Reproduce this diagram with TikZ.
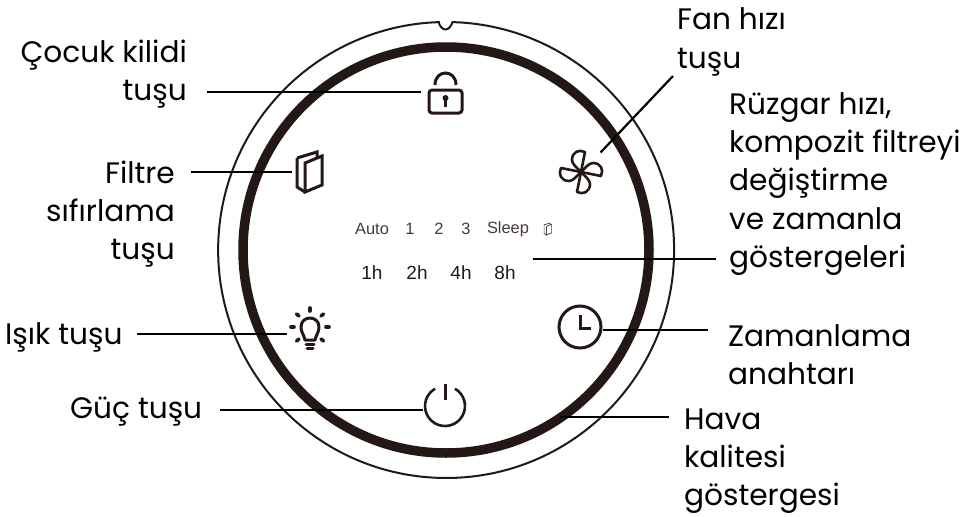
\documentclass[tikz,border=0pt]{standalone}
\usepackage{fontspec}
\setmainfont{Poppins}
\newfontfamily\panelfont{Liberation Sans}
\usetikzlibrary{positioning}

\definecolor{inkdark}{HTML}{231815}

\begin{document}
\begin{tikzpicture}[
    x=1pt, y=-1pt,
    lblr/.style={inner sep=0pt, align=right, anchor=east, font=\fontsize{29.6}{38.3}\selectfont},
    lbll/.style={inner sep=0pt, align=left, anchor=west, font=\fontsize{29.6}{38.3}\selectfont},
    panel/.style={inner sep=0pt, text=inkdark!85, font=\panelfont\fontsize{16.4}{18}\selectfont},
    hour/.style={inner sep=0pt, text=inkdark, font=\panelfont\fontsize{19}{20}\selectfont},
    icon/.style={inner sep=0pt, minimum height=1pt},
    lead/.style={line width=2.2pt, black},
    ink/.style={draw=inkdark, line width=3pt},
    inkr/.style={draw=inkdark, line width=3pt, line cap=round},
    booklet/.pic={
        \draw (-13,-14) -- (7,-20) -- (7,-14);
        \draw (-13,-14) -- (-13,15) -- (-5,20);
        \draw (-5,-9) -- (12,-16) -- (12,13) -- (-5,20) -- cycle;
    },
]
\useasboundingbox (0,0) rectangle (978,517);

% housing
\draw[draw=inkdark, line width=9.5pt] (446,250) circle[radius=203pt];
\draw[draw=inkdark, line width=2pt] (438.5,22.1)
    .. controls (440,27) and (443,29.5) .. (445.5,29.5) .. controls (448,29.5) and (451,27) .. (452.5,22.1)
    arc[start angle=88.4, end angle=-268.4, radius=228pt];

% icons
\node[icon, minimum width=48pt] (lock) at (445,92) {};
\node[icon, minimum width=36pt] (filter) at (310,172) {};
\node[icon, circle, minimum size=55pt, inner sep=0pt] (fan) at (581,172) {};
\node[icon, minimum width=46pt] (light) at (310,334) {};
\node[icon, minimum width=46pt] (clock) at (580,330) {};
\node[icon, minimum width=44pt] (power) at (445,410) {};

% lock
\draw[ink, rounded corners=3pt] (429,90) rectangle (462,113);
\draw[ink] (435,85) .. controls (435,69) and (456,69) .. (456,85);
\fill[inkdark] (445.5,98) circle[radius=3pt];
\draw[inkdark, line width=2.6pt] (445.5,98) -- (445.5,107);

% filter
\pic[ink, line join=miter] at (310,172) {booklet};

% fan
\foreach \a in {0,90,180,270} {
    \draw[inkr, line width=2.6pt, line join=round, shift={(581,172)}, rotate=\a] (0,0) -- (4,-20)
        .. controls (-2,-23) and (-9,-20) .. (-9,-12) .. controls (-9,-8) and (-4,-4) .. (0,0);
}

% bulb
\draw[inkr, line join=round] (305,340) .. controls (303.5,334) and (301,332) .. (301,327)
    .. controls (301,315) and (319,315) .. (319,327) .. controls (319,332) and (316.5,334) .. (315,340) -- cycle;
\draw[inkr] (306,344) -- (314,344);
\draw[inkr] (307,348) -- (313,348);
\draw[inkr, line width=3.6pt] (310,308) -- (310,311);
\draw[inkr, line width=3.6pt] (296.5,314) -- (299,316);
\draw[inkr, line width=3.6pt] (323.5,314) -- (321,316);
\draw[inkr, line width=3.6pt] (291,327) -- (294,327);
\draw[inkr, line width=3.6pt] (329,327) -- (326,327);
\draw[inkr, line width=3.6pt] (296.5,341) -- (299,339);
\draw[inkr, line width=3.6pt] (323.5,341) -- (321,339);

% clock
\draw[ink] (580,327) circle[radius=21pt];
\draw[ink, line join=miter] (580,315) -- (580,328) -- (591,328);

% power
\draw[ink, line width=2.6pt] (455,388.7) arc[start angle=60, end angle=-240, radius=20pt];
\draw[ink, line width=3pt] (445,384) -- (445,400);

% display
\node[panel] (auto) at (372,229) {Auto};
\node[panel] (one) at (410,229) {1};
\node[panel] (two) at (439,229) {2};
\node[panel] (three) at (466,229) {3};
\node[panel] (sleep) at (508,229) {Sleep};
\pic[draw=inkdark!85, line width=.7pt, scale=.3] (small) at (548,229) {booklet};
\node[hour] (oneh) at (372,273) {1h};
\node[hour] (twoh) at (417,273) {2h};
\node[hour] (fourh) at (461,273) {4h};
\node[hour] (eighth) at (505,273) {8h};

% labels
\node[lblr] (lockLbl) at (187,74) {Çocuk kilidi\\tuşu};
\node[lblr] (filterLbl) at (175,214) {Filtre\\sıfırlama\\tuşu};
\node[lbll] (lightLbl) at (5,337) {Işık tuşu};
\node[lbll] (powerLbl) at (70,412) {Güç tuşu};
\node[lbll] (fanLbl) at (677,42) {Fan hızı\\tuşu};
\node[lbll] (indLbl) at (729,184) {Rüzgar hızı,\\kompozit filtreyi\\değiştirme\\ve zamanla\\göstergeleri};
\node[lbll] (timerLbl) at (728,355) {Zamanlama\\anahtarı};
\node[lbll] (airLbl) at (684,461) {Hava\\kalitesi\\göstergesi};

\coordinate (fanEnd) at (673,76);
\coordinate (indEnd) at (533,259);
\coordinate (ringEnd) at (560,417);
\coordinate (lightEnd) at (287,334);

% leaders
\draw[lead] ([xshift=20pt]lockLbl.east |- lock.west) -- (lock.west);
\draw[lead] ([xshift=16pt]filterLbl.east |- filter.west) -- (filter.west);
\draw[lead] ([xshift=14pt]lightLbl.east |- light.west) -- (light.west);
\draw[lead] ([xshift=18pt]powerLbl.east |- power.west) -- (power.west);
\draw[lead] (fan.north east) -- (fanEnd);
\draw[lead] (indEnd) -- ([xshift=-13pt]indLbl.west |- indEnd);
\draw[lead] (clock.east) -- ([xshift=-20pt]timerLbl.west |- clock.east);
\draw[lead] (ringEnd) -- ([xshift=-15pt]airLbl.west |- ringEnd);

\end{tikzpicture}
\end{document}
